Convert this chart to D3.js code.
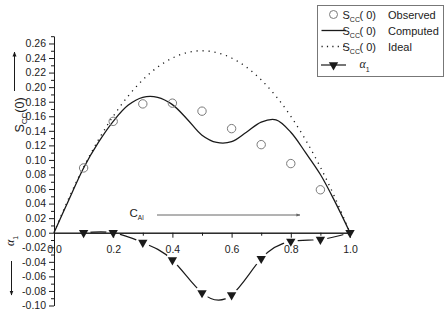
<!DOCTYPE html>
<html><head><meta charset="utf-8">
<script src="https://cdn.jsdelivr.net/npm/d3@7"></script>
<style>
body{margin:0;background:#fff}
svg{display:block}
text{font-family:"Liberation Sans",Arial,sans-serif;fill:#222}
</style>
</head><body>
<svg id="c" width="448" height="313"></svg>
<script>
// ---- data ----
const obsX = [0.1,0.2,0.3,0.4,0.5,0.6,0.7,0.8,0.9];
const obsY = [0.089,0.153,0.177,0.178,0.167,0.143,0.121,0.095,0.059];
const curveX = [0,0.05,0.1,0.15,0.2,0.25,0.3,0.35,0.4,0.45,0.5,0.55,0.6,0.65,0.7,0.75,0.8,0.85,0.9,0.95,1.0];
const computedY = [0,0.045,0.089,0.124,0.153,0.175,0.186,0.186,0.176,0.156,0.134,0.124,0.125,0.138,0.152,0.155,0.138,0.110,0.080,0.042,0];
const idealY = [0,0.0475,0.09,0.1275,0.16,0.1875,0.21,0.2275,0.24,0.2475,0.25,0.2475,0.24,0.2275,0.21,0.1875,0.16,0.1275,0.09,0.0475,0];
const alphaX = [0.1,0.2,0.3,0.4,0.5,0.6,0.7,0.8,0.9,1.0];
const alphaY = [0,0,-0.0135,-0.0375,-0.0826,-0.0856,-0.0357,-0.012,-0.0093,0];
const yTicks = [-0.10,-0.08,-0.06,-0.04,-0.02,0.00,0.02,0.04,0.06,0.08,0.10,0.12,0.14,0.16,0.18,0.20,0.22,0.24,0.26];
const yMinor = [-0.09,-0.07,-0.05,-0.03,-0.01,0.01,0.03,0.05,0.07,0.09,0.11,0.13,0.15,0.17,0.19,0.21,0.23,0.25,0.27];
const xTicks = [0.0,0.2,0.4,0.6,0.8,1.0];
const xMinor = [0.1,0.3,0.5,0.7,0.9];

// ---- scales ----
const svg = d3.select("#c");
const x = d3.scaleLinear().domain([0,1]).range([54,350]);
const y = d3.scaleLinear().domain([-0.10,0.27]).range([305.5,36.2]);
const ink = "#1a1a1a";

// ---- axes ----
svg.append("g").attr("transform","translate(54,0)")
  .call(d3.axisLeft(y).tickValues(yTicks).tickSize(5).tickSizeOuter(0).tickPadding(3)
    .tickFormat(d=>d.toFixed(2)));
svg.append("g").attr("transform","translate(54,0)")
  .call(d3.axisLeft(y).tickValues(yMinor).tickSize(3).tickSizeOuter(0).tickFormat(""));
svg.append("g").attr("transform",`translate(0,${y(0)})`)
  .call(d3.axisBottom(x).tickValues(xTicks).tickSize(5).tickSizeOuter(0).tickPadding(8)
    .tickFormat(d=>d.toFixed(1)));
svg.append("g").attr("transform",`translate(0,${y(0)})`)
  .call(d3.axisBottom(x).tickValues(xMinor).tickSize(3).tickSizeOuter(0).tickFormat(""));
svg.selectAll(".domain, .tick line").attr("stroke",ink).attr("stroke-width",1);
svg.selectAll(".tick text").attr("font-size","10.5px").attr("font-family","'Liberation Sans',Arial,sans-serif").attr("fill","#222");

// ---- curves ----
const line = d3.line().x((d,i)=>x(curveX[i])).curve(d3.curveCatmullRom.alpha(0.5));
svg.append("path").attr("d", line.y(d=>y(d))(idealY))
  .attr("fill","none").attr("stroke",ink).attr("stroke-width",1.3)
  .attr("stroke-dasharray","1.2,4.8");
svg.append("path").attr("d", line.y(d=>y(d))(computedY))
  .attr("fill","none").attr("stroke",ink).attr("stroke-width",1.3);

// observed circles
svg.append("g").selectAll("circle").data(obsY).join("circle")
  .attr("cx",(d,i)=>x(obsX[i])).attr("cy",d=>y(d)).attr("r",4.2)
  .attr("fill","none").attr("stroke","#7a7a7a").attr("stroke-width",1);

// alpha line with gaps near markers
const defs = svg.append("defs");
const mask = defs.append("mask").attr("id","gapmask").attr("maskUnits","userSpaceOnUse")
  .attr("x",0).attr("y",0).attr("width",448).attr("height",313);
mask.append("rect").attr("width",448).attr("height",313).attr("fill","#fff");
mask.selectAll("circle").data(alphaY).join("circle")
  .attr("cx",(d,i)=>x(alphaX[i])).attr("cy",d=>y(d)).attr("r",7).attr("fill","#000");
const aLine = d3.line().x((d,i)=>x(alphaX[i])).y(d=>y(d)).curve(d3.curveNatural);
svg.append("path").attr("d",aLine(alphaY)).attr("mask","url(#gapmask)")
  .attr("fill","none").attr("stroke",ink).attr("stroke-width",1.2);
const tri = d3.symbol().type(d3.symbolTriangle).size(38);
svg.append("g").selectAll("path").data(alphaY).join("path")
  .attr("d",tri).attr("transform",(d,i)=>`translate(${x(alphaX[i])},${y(d)}) rotate(180)`)
  .attr("fill",ink);

// ---- axis titles ----
const ytitle = svg.append("text").attr("transform","translate(24,115) rotate(-90)")
  .attr("text-anchor","middle").attr("font-size","12.5px");
ytitle.append("tspan").text("S");
ytitle.append("tspan").text("CC").attr("font-size","8px").attr("dy",3);
ytitle.append("tspan").text("(0)").attr("dy",-3);

const atitle = svg.append("text").attr("transform","translate(14,241) rotate(-90)")
  .attr("text-anchor","middle");
atitle.append("tspan").text("α").attr("font-family","'Liberation Serif',serif").attr("font-style","italic").attr("font-size","12px");
atitle.append("tspan").text("1").attr("font-size","7px").attr("dy",3.5);

// arrow markers
defs.append("marker").attr("id","ah").attr("viewBox","0 0 10 10").attr("refX",9).attr("refY",5)
  .attr("markerWidth",5).attr("markerHeight",5).attr("orient","auto")
  .append("path").attr("d","M0,1 L10,5 L0,9 Z").attr("fill",ink);
defs.append("marker").attr("id","ahg").attr("viewBox","0 0 10 10").attr("refX",9).attr("refY",5)
  .attr("markerWidth",4).attr("markerHeight",4).attr("orient","auto")
  .append("path").attr("d","M0,1 L10,5 L0,9 Z").attr("fill","#666");

svg.append("line").attr("x1",14.5).attr("y1",91).attr("x2",14.5).attr("y2",52)
  .attr("stroke",ink).attr("stroke-width",1).attr("marker-end","url(#ah)");
svg.append("line").attr("x1",11.5).attr("y1",261).attr("x2",11.5).attr("y2",295)
  .attr("stroke",ink).attr("stroke-width",1).attr("marker-end","url(#ah)");

// C_Al label and arrow
const cal = svg.append("text").attr("x",129.5).attr("y",217).attr("font-size","11.5px");
cal.append("tspan").text("C");
cal.append("tspan").text("Al").attr("font-size","6.5px").attr("dy",3);
svg.append("line").attr("x1",157).attr("y1",215).attr("x2",300).attr("y2",215)
  .attr("stroke","#666").attr("stroke-width",1).attr("marker-end","url(#ahg)");

// ---- legend ----
const lg = svg.append("g");
lg.append("rect").attr("x",317.5).attr("y",5.5).attr("width",126).attr("height",71)
  .attr("fill","#fff").attr("stroke","#777").attr("stroke-width",1);
function sccLabel(yb){
  const t = lg.append("text").attr("x",342.5).attr("y",yb).attr("font-size","11px");
  t.append("tspan").text("S");
  t.append("tspan").text("CC").attr("font-size","7px").attr("dy",3);
  lg.append("text").attr("x",359.5).attr("y",yb).attr("font-size","11px").text("( 0)");
}
const names = ["Observed","Computed","Ideal"];
const rowsY = [14.5,30.5,46.5];
lg.append("circle").attr("cx",333.5).attr("cy",rowsY[0]).attr("r",4)
  .attr("fill","none").attr("stroke","#7a7a7a");
lg.append("line").attr("x1",321.5).attr("x2",346).attr("y1",rowsY[1]).attr("y2",rowsY[1])
  .attr("stroke",ink).attr("stroke-width",1.3);
lg.append("line").attr("x1",321.5).attr("x2",344).attr("y1",rowsY[2]).attr("y2",rowsY[2])
  .attr("stroke",ink).attr("stroke-width",1.3).attr("stroke-dasharray","1.2,4.2");
names.forEach((n,i)=>{
  sccLabel(rowsY[i]+4);
  lg.append("text").attr("x",388).attr("y",rowsY[i]+4).attr("font-size","11px").text(n);
});
const r4 = 65;
lg.append("line").attr("x1",321).attr("x2",346).attr("y1",r4).attr("y2",r4)
  .attr("stroke",ink).attr("stroke-width",1.2);
lg.append("path").attr("d",tri).attr("transform",`translate(333.5,${r4}) rotate(180)`).attr("fill",ink);
const at = lg.append("text").attr("x",359.5).attr("y",r4+3).attr("font-size","12px");
at.append("tspan").text("α").attr("font-family","'Liberation Serif',serif").attr("font-style","italic");
at.append("tspan").text("1").attr("font-size","7px").attr("dy",3.5);
</script>
</body></html>
